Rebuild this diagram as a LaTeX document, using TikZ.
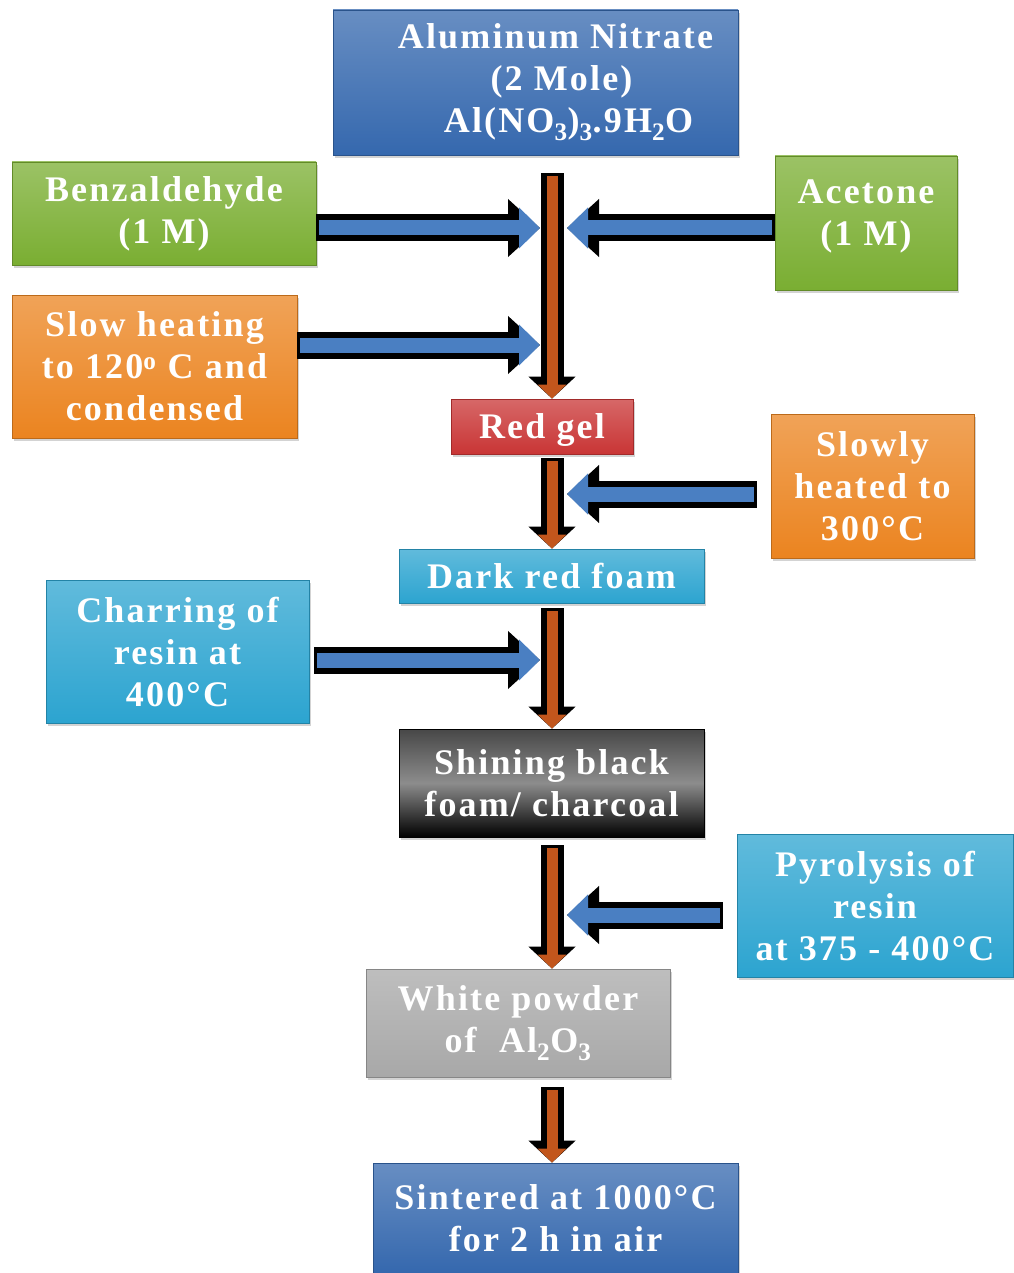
\documentclass[tikz,border=0pt]{standalone}
\usepackage{fontspec}
\usetikzlibrary{arrows.meta,shadows,calc}
\newfontfamily\boxfont[LetterSpace=6]{Liberation Serif}

\definecolor{nitblue}{HTML}{3568AE}
\definecolor{leafgreen}{HTML}{7AAE32}
\definecolor{heatorange}{HTML}{EB8420}
\definecolor{gelred}{HTML}{C93535}
\definecolor{foamcyan}{HTML}{2CA4D0}
\definecolor{ashgray}{HTML}{A8A8A8}
\definecolor{pipeorange}{HTML}{C2561C}
\definecolor{feedblue}{HTML}{4A7FC2}

\begin{document}
\begin{tikzpicture}[x=1pt,y=-1pt,
  box/.style={rectangle, inner sep=0pt, draw=#1!80!black, line width=.8pt,
    top color=#1!75!white, bottom color=#1, text=white, align=center,
    font=\boxfont\bfseries\fontsize{36}{42}\selectfont,
    drop shadow={opacity=.35, shadow xshift=2pt, shadow yshift=-3pt}},
  boxsize/.style 2 args={minimum width=#1pt, minimum height=#2pt},
  pipe/.style={draw=pipeorange, line width=11pt, shorten <=3pt,
    -{Triangle[length=14pt,width=28pt]},
    preaction={draw=black, line width=23pt, shorten <=0pt,
      -{Triangle[length=22pt,width=46pt]}}},
  feed/.style={draw=feedblue, line width=15pt, shorten <=3pt,
    -{Triangle[length=21pt,width=40pt]},
    preaction={draw=black, line width=27pt, shorten <=0pt,
      -{Triangle[length=32pt,width=56pt]}}}]
 \useasboundingbox (0,0) rectangle (1013,1273);

 % main line of the process
 \node (nitrate) [box=nitblue, boxsize={405}{145}] at (535.5,82.5)
   {\hspace*{40pt}Aluminum Nitrate\\\hspace*{52pt}(2 Mole)\\
    \hspace*{66pt}Al(NO\textsubscript{3})\textsubscript{3}.9H\textsubscript{2}O};
 \node (redgel) [box=gelred, boxsize={182}{55}, text depth=0pt] at (542,426.5) {Red gel};
 \node (foam) [box=foamcyan, boxsize={305}{54}, text depth=0pt] at (551.5,576) {Dark red foam};
 \node (charcoal) [box=black, top color=black!72, bottom color=black, middle color=black!45,
   boxsize={305}{108}] at (551.5,783) {Shining black\\foam/ charcoal};
 \node (powder) [box=ashgray, boxsize={304}{108}] at (518,1023)
   {White powder\\of~~Al\textsubscript{2}O\textsubscript{3}};
 \node (sinter) [box=nitblue, boxsize={365}{110}] at (555.5,1218)
   {Sintered at 1000°C\\for 2 h in air};

 % side inputs
 \node (benz) [box=leafgreen, boxsize={304}{103}] at (164,213.5) {Benzaldehyde\\(1 M)};
 \node (acetone) [box=leafgreen, boxsize={182}{134}] at (866,223) {Acetone\\(1 M)\\[-22pt]};
 \node (heat1) [box=heatorange, boxsize={285}{143}] at (154.5,366.5)
   {Slow heating\\to 120\textsuperscript{o} C and\\condensed};
 \node (heat2) [box=heatorange, boxsize={203}{144}] at (872.5,486) {Slowly\\heated to\\300°C};
 \node (char) [box=foamcyan, boxsize={263}{143}] at (177.5,651.5) {Charring of\\resin at\\400°C};
 \node (pyro) [box=foamcyan, boxsize={276}{143}] at (875,905.5) {Pyrolysis of\\resin\\at 375 - 400°C};

 \coordinate (spine) at (552,0);
 \coordinate (j1) at (540,228);
 \coordinate (j2) at (567,228);
 \coordinate (j3) at (540,345);
 \coordinate (j4) at (567,494);
 \coordinate (j5) at (540,660);
 \coordinate (j6) at (567,915);

 \draw[pipe] ($(nitrate.south -| spine)+(0,18)$) -- (redgel.north -| spine);
 \draw[pipe] ($(redgel.south -| spine)+(0,4)$) -- (foam.north -| spine);
 \draw[pipe] ($(foam.south -| spine)+(0,5)$) -- (charcoal.north -| spine);
 \draw[pipe] ($(charcoal.south -| spine)+(0,8)$) -- (powder.north -| spine);
 \draw[pipe] ($(powder.south -| spine)+(0,10)$) -- (sinter.north -| spine);

 \draw[feed] (benz.east |- j1) -- (j1);
 \draw[feed] (acetone.west |- j2) -- (j2);
 \draw[feed] (heat1.east |- j3) -- (j3);
 \draw[feed] ($(heat2.west |- j4)+(-14,0)$) -- (j4);
 \draw[feed] ($(char.east |- j5)+(5,0)$) -- (j5);
 \draw[feed] ($(pyro.west |- j6)+(-14,0)$) -- (j6);
\end{tikzpicture}
\end{document}
